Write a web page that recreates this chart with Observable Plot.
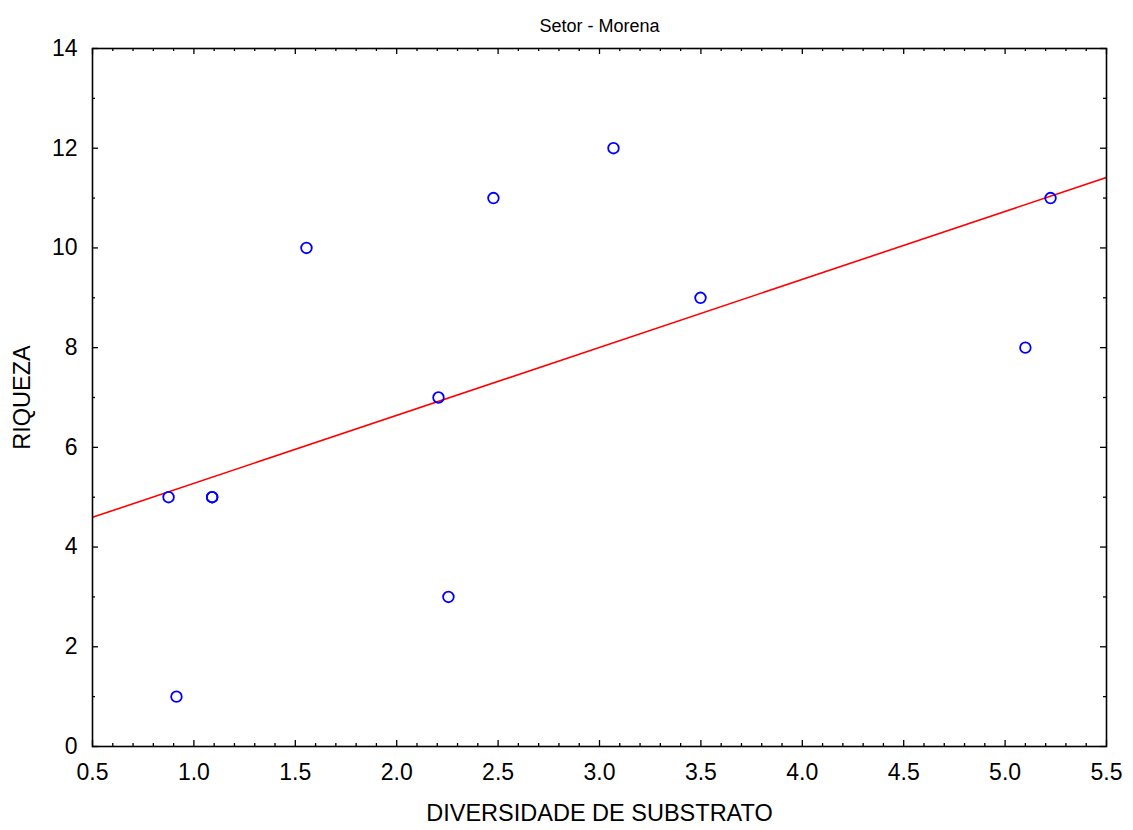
<!DOCTYPE html>
<html><head><meta charset="utf-8">
<script src="https://cdn.jsdelivr.net/npm/d3@7"></script>
<script src="https://cdn.jsdelivr.net/npm/@observablehq/plot@0.6"></script>
<style>body{margin:0;background:#fff;} svg{display:block;}</style>
</head><body><div id="chart"></div>
<script>
const title = "Setor - Morena";
const xLabel = "DIVERSIDADE DE SUBSTRATO";
const yLabel = "RIQUEZA";
const diversidade = [0.875, 0.914, 1.09, 1.09, 1.555, 2.206, 2.255, 2.477, 3.069, 3.498, 5.10, 5.224];
const riqueza     = [5,     1,     5,    5,    10,    7,     3,     11,    12,    9,     8,    11];
const xDomain = [0.5, 5.5];
const yDomain = [0, 14];
const xTicks = [0.5, 1.0, 1.5, 2.0, 2.5, 3.0, 3.5, 4.0, 4.5, 5.0, 5.5];
const xTickLabels = ["0.5", "1.0", "1.5", "2.0", "2.5", "3.0", "3.5", "4.0", "4.5", "5.0", "5.5"];
const yTicks = [0, 2, 4, 6, 8, 10, 12, 14];
const yTickLabels = ["0", "2", "4", "6", "8", "10", "12", "14"];
const xMinorTicks = [0.6,0.7,0.8,0.9,1.1,1.2,1.3,1.4,1.6,1.7,1.8,1.9,2.1,2.2,2.3,2.4,2.6,2.7,2.8,2.9,3.1,3.2,3.3,3.4,3.6,3.7,3.8,3.9,4.1,4.2,4.3,4.4,4.6,4.7,4.8,4.9,5.1,5.2,5.3,5.4];
const yMinorTicks = [1, 3, 5, 7, 9, 11, 13];

const points = diversidade.map((x, i) => ({x, y: riqueza[i]}));
// least-squares fit from the data
const mx = d3.mean(diversidade), my = d3.mean(riqueza);
const slope = d3.sum(points, p => (p.x - mx) * (p.y - my)) / d3.sum(points, p => (p.x - mx) ** 2);
const intercept = my - slope * mx;
const fitLine = xDomain.map(x => ({x, y: intercept + slope * x}));

const W = 1133, H = 830;
const mL = 92, mR = 27, mT = 48, mB = 84;
const iw = W - mL - mR, ih = H - mT - mB;
const font = "'Liberation Sans', Arial, sans-serif";

const chart = Plot.plot({
  width: W, height: H,
  marginLeft: mL, marginRight: mR, marginTop: mT, marginBottom: mB,
  style: {fontFamily: font, background: "#fff", color: "#000"},
  x: {domain: xDomain},
  y: {domain: yDomain},
  marks: [
    Plot.axisX(xTicks, {tickSize: 0, tickPadding: 17, fontSize: 23, tickFormat: (d, i) => xTickLabels[i], label: null}),
    Plot.axisY(yTicks, {tickSize: 0, tickPadding: 15, fontSize: 23, tickFormat: (d, i) => yTickLabels[i], label: null}),
    // inward ticks on all four sides
    Plot.ruleX(xTicks, {insetTop: ih - 6, stroke: "#000", strokeWidth: 1.3}),
    Plot.ruleX(xTicks, {insetBottom: ih - 6, stroke: "#000", strokeWidth: 1.3}),
    Plot.ruleX(xMinorTicks, {insetTop: ih - 3, stroke: "#000", strokeWidth: 1.3}),
    Plot.ruleX(xMinorTicks, {insetBottom: ih - 3, stroke: "#000", strokeWidth: 1.3}),
    Plot.ruleY(yTicks, {insetRight: iw - 6, stroke: "#000", strokeWidth: 1.3}),
    Plot.ruleY(yTicks, {insetLeft: iw - 6, stroke: "#000", strokeWidth: 1.3}),
    Plot.ruleY(yMinorTicks, {insetRight: iw - 3, stroke: "#000", strokeWidth: 1.3}),
    Plot.ruleY(yMinorTicks, {insetLeft: iw - 3, stroke: "#000", strokeWidth: 1.3}),
    Plot.line(fitLine, {x: "x", y: "y", stroke: "#ff0000", strokeWidth: 1.6, clip: true}),
    Plot.dot(points, {x: "x", y: "y", r: 5.3, stroke: "#0000ff", strokeWidth: 1.8, fill: "none"}),
    Plot.frame({stroke: "#000", strokeWidth: 1.6}),
    Plot.text([title], {frameAnchor: "top", textAnchor: "middle", dy: -29, fontSize: 18, fill: "#000"}),
    Plot.text([xLabel], {frameAnchor: "bottom", textAnchor: "middle", dy: 74, fontSize: 23.5, fill: "#000"}),
    Plot.text([yLabel], {frameAnchor: "left", textAnchor: "middle", dx: -70, rotate: -90, fontSize: 23.5, fill: "#000"})
  ]
});
document.getElementById("chart").appendChild(chart);
</script></body></html>
